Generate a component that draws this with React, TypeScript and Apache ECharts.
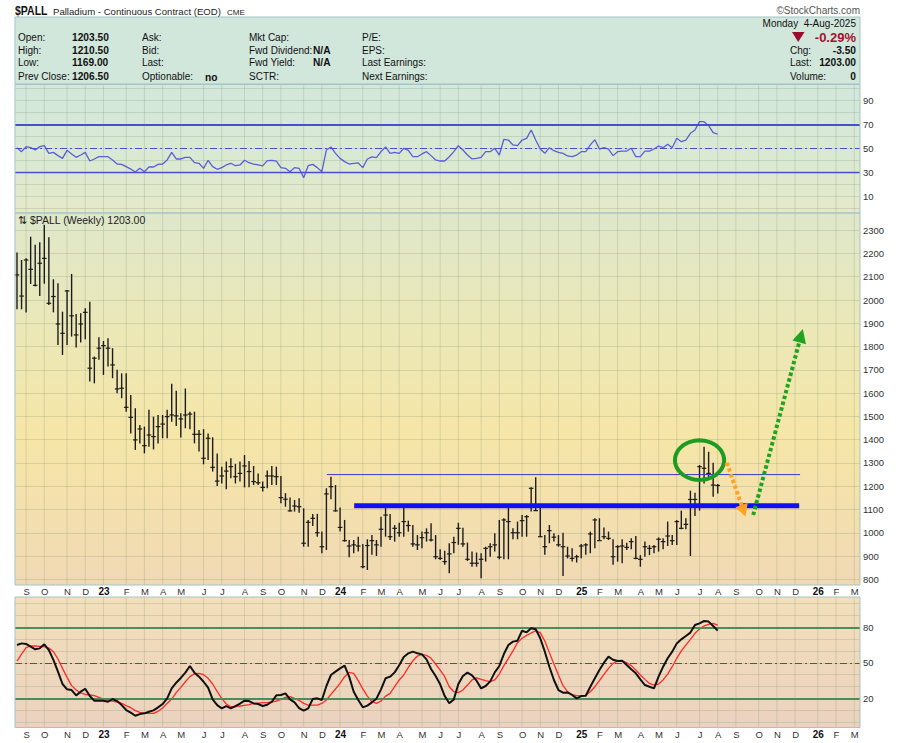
import React, { useEffect, useRef } from 'react';
import * as echarts from 'echarts';

const FONT = '"Liberation Sans", Arial, Helvetica, sans-serif';

// ---- weekly time base (bar index 0 = week of 22-Aug-2022) ----
const weekStartUTC = Date.UTC(2022, 7, 22);
const totalWeeks = 186;
const monthLabels = ['S','O','N','D','23','F','M','A','M','J','J','A','S','O','N','D','24','F','M','A','M','J','J','A','S','O','N','D','25','F','M','A','M','J','J','A','S','O','N','D','26','F','M'];

// ---- weekly bars ($PALL) ----
const highs = [2204,2172,2180,2272,2237,2248,2323,2270,2089,2072,1950,2043,2112,1940,1943,1965,1993,1757,1840,1824,1836,1793,1700,1685,1685,
1592,1535,1463,1456,1528,1499,1506,1506,1528,1640,1610,1513,1620,1520,1520,1442,1445,1427,1410,1341,1284,1306,1320,1296,1306,1334,1308,1287,1255,1220,1267,1287,1284,1244,1170,1151,1141,1148,1105,1055,1081,1081,1005,1191,1241,1205,1109,1055,
969,969,983,952,972,990,969,1069,1112,1081,1033,1043,1109,1052,1033,990,1005,1019,1041,990,929,923,955,983,1043,1022,958,919,915,912,940,955,998,1055,1062,1112,1019,1048,1076,1076,1195,1238,1112,990,1033,998,990,1000,940,933,905,952,955,1005,
1062,1062,1023,1005,972,947,972,957,976,986,904,962,947,947,980,976,1048,990,1055,1095,1062,1181,1172,1291,1370,1348,1301,1210];
const lows = [1960,1960,1946,2069,2058,2017,2070,1979,1947,1807,1764,1807,1843,1796,1818,1831,1650,1642,1743,1678,1714,1664,1599,1578,1520,
1427,1356,1384,1341,1370,1358,1384,1406,1406,1477,1459,1409,1449,1445,1384,1349,1294,1313,1263,1201,1212,1187,1234,1212,1220,1195,1195,1205,1205,1177,1191,1205,1205,1127,1112,1091,1091,1086,940,940,1029,983,912,926,1144,1091,1005,962,
895,912,919,847,840,905,900,940,983,969,962,983,983,1005,940,926,933,962,962,886,883,862,826,912,948,940,879,854,854,804,876,897,919,886,886,886,972,972,983,983,1091,1095,983,905,955,962,940,814,890,876,872,890,905,912,
933,968,972,969,862,876,869,926,929,886,854,897,904,912,919,929,943,947,947,1015,1015,900,1072,1095,1212,1234,1155,1169];
const closes = [2108,2017,2172,2132,2063,2158,2179,1986,2015,1897,1857,2039,1932,1850,1897,1947,1707,1750,1793,1804,1793,1721,1618,1621,1539,
1496,1399,1446,1374,1420,1413,1456,1467,1499,1506,1502,1489,1506,1510,1423,1423,1320,1406,1281,1222,1244,1265,1284,1241,1255,1287,1263,1220,1215,1195,1244,1244,1241,1151,1144,1094,1115,1112,955,1045,1062,1000,940,1167,1198,1094,1023,966,
943,948,943,854,945,966,948,1015,1076,983,1019,1000,1048,1031,952,948,979,1000,969,897,890,876,909,958,1019,952,886,869,869,886,933,940,948,895,1055,1048,1000,1000,1052,1069,1191,1095,983,940,1009,981,948,940,900,890,897,943,948,995,
1055,966,983,976,897,940,943,937,962,890,886,940,933,940,972,962,986,966,1048,1019,1036,1143,1143,1284,1277,1255,1205,1203];

// ---- RSI(14) ----
const rsi = [50.5,47.2,51.4,50.5,48.6,51.4,52.2,45.8,46.6,43.9,
41.6,48.3,45.3,42.5,44.4,46.6,39.4,41.1,43.0,43.0,
43.0,40.3,36.9,36.6,34.7,32.7,30.3,33.3,30.5,34.4,
34.4,36.6,36.9,40.3,46.6,41.1,41.1,42.5,42.5,38.0,
37.5,33.3,40.0,34.7,32.5,33.9,36.1,37.5,35.5,36.1,
40.0,38.0,36.9,36.1,35.3,39.7,40.0,39.4,33.9,33.3,
30.5,33.9,33.3,25.5,35.5,36.6,33.9,30.5,48.6,51.1,
45.8,41.6,38.9,36.9,37.5,37.8,33.9,41.1,42.8,42.2,
47.2,51.1,45.8,46.6,45.8,50.0,48.3,43.0,43.0,45.3,
47.2,43.9,40.3,39.4,39.4,43.0,
47.2,52.2,48.6,44.4,41.1,41.6,42.5,47.2,47.2,50.0,
44.4,57.5,56.9,52.8,52.2,56.9,58.3,65.2,56.9,49.4,
45.8,50.5,48.0,46.6,45.8,43.6,43.0,44.4,47.2,47.2,
52.8,57.2,49.4,50.5,49.4,43.9,47.2,47.7,47.7,50.0,
43.0,43.0,47.7,47.7,49.4,51.9,50.5,53.3,50.5,58.3,
55.5,56.9,62.5,65.2,72.2,72.2,68.9,63.0,61.9];
const rsiLabels = [10, 30, 50, 70, 90];

// ---- Slow stochastics ----
const stochK = [65.0,66.4,65.9,63.6,61.4,62.2,65.6,60.8,52.4,42.5,
32.1,27.6,27.0,22.5,25.6,28.1,21.9,18.0,18.0,18.0,
17.1,19.4,17.7,14.3,10.1,7.9,5.3,6.7,7.3,8.7,
9.8,12.4,15.2,20.0,28.4,33.2,37.2,41.7,47.3,41.7,
38.3,34.0,29.0,19.1,14.3,11.5,13.5,11.5,13.5,15.5,
18.0,17.7,15.7,15.2,13.5,14.6,17.1,22.5,22.8,24.2,
19.1,16.6,11.8,9.6,11.5,19.4,20.0,18.6,30.4,39.7,
42.5,45.3,47.6,38.3,25.6,18.6,12.4,13.8,16.6,19.7,
27.6,36.9,38.3,41.9,47.9,54.9,58.0,59.4,58.0,57.1,
52.9,44.8,38.8,31.8,21.9,15.8,
19.1,32.1,38.8,41.7,39.4,34.9,28.4,30.4,34.3,41.9,
47.3,57.4,65.0,67.9,68.7,77.1,75.7,79.1,78.3,70.7,
59.4,46.7,35.5,27.0,24.8,25.0,22.8,20.0,21.9,22.2,
29.8,36.9,43.9,50.1,55.2,52.6,51.5,51.8,48.1,44.5,
41.1,36.0,31.2,29.8,28.4,38.3,46.7,53.8,59.4,66.4,
69.8,72.6,75.5,81.9,83.3,85.3,84.8,81.1,77.2];
const stochD = [51.5,57.4,62.8,64.2,64.2,63.9,63.6,62.5,59.4,53.2,
45.3,37.7,30.7,27.0,24.5,23.3,22.8,22.2,20.8,19.4,
18.3,17.7,16.9,15.7,13.8,12.1,9.6,8.1,7.3,7.3,
7.3,9.0,11.8,15.7,19.4,24.8,29.3,34.0,38.3,40.8,
41.1,40.0,36.9,32.1,25.6,20.0,15.2,12.9,12.9,13.5,
14.1,14.6,15.7,16.0,16.3,16.3,16.9,17.7,19.1,20.8,
21.4,20.0,18.3,15.7,14.3,14.3,14.3,15.7,18.6,23.3,
27.9,32.6,38.3,41.9,41.1,34.9,27.9,21.9,17.1,15.7,
17.7,21.9,24.2,29.8,35.5,39.7,46.2,51.8,55.7,57.1,
56.3,53.8,49.0,43.9,38.3,29.8,
25.6,24.8,27.0,31.2,35.5,37.2,36.0,34.9,34.1,35.5,
40.5,47.6,53.8,60.0,67.0,70.7,73.2,75.2,76.9,75.5,
68.4,58.6,49.0,39.7,30.7,25.6,23.1,22.2,22.2,22.5,
25.6,29.8,34.9,40.2,45.3,49.5,51.5,51.5,50.1,47.6,
43.9,39.7,36.0,32.6,31.2,32.1,35.5,40.5,46.7,53.8,
60.0,65.0,69.8,74.9,78.5,81.1,82.5,83.3,81.9];
const stochLabels = [20, 50, 80];

// ---- annotations (data coords: [week index, price]) ----
const thinLine = [[68.1, 1250], [172.1, 1250]];
const thickLine = [[74.1, 1116], [171.9, 1116]];
const ellipseCenter = [150, 1312];
const ellipseRadius = [5.4, 85];
const orangeArrow = [[156.0, 1301], [160.1, 1070]];
const greenArrow = [[161.8, 1076], [172.7, 1876]];

// ---- header ----
const col1Labels = ['Open:', 'High:', 'Low:', 'Prev Close:'];
const col1Values = ['1203.50', '1210.50', '1169.00', '1206.50'];
const col2Labels = ['Ask:', 'Bid:', 'Last:', 'Optionable:'];
const col2Values = ['', '', '', 'no'];
const col3Labels = ['Mkt Cap:', 'Fwd Dividend:', 'Fwd Yield:', 'SCTR:'];
const col3Values = ['', 'N/A', 'N/A', ''];
const col4Labels = ['P/E:', 'EPS:', 'Last Earnings:', 'Next Earnings:'];
const rightLabels = ['Chg:', 'Last:', 'Volume:'];
const rightValues = ['-3.50', '1203.00', '0'];

function txt(x: number, y: number, text: string, font: string, fill = '#111', align = 'left', scaleX = 1) {
  return {
    type: 'text', x, y, z: 30, silent: true, scaleX,
    style: { text, font, fill, align, verticalAlign: 'middle', textAlign: align, textVerticalAlign: 'middle' },
  };
}

export default function App() {
  const ref = useRef<HTMLDivElement>(null);
  useEffect(() => {
    if (!ref.current) return;
    const chart = echarts.init(ref.current, undefined, { renderer: 'svg' });

    const monthIdx: number[] = [];
    for (let i = 1; i < totalWeeks; i++) {
      const d = new Date(weekStartUTC + i * 7 * 86400000);
      const p = new Date(weekStartUTC + (i - 1) * 7 * 86400000);
      if (d.getUTCMonth() !== p.getUTCMonth()) monthIdx.push(i);
    }

    const xMin = -0.44, xMax = 185.27;
    const gridColor = 'rgba(110,135,110,0.22)';
    const rowY = [37.3, 50, 62.7, 76];
    const hf = `10px ${FONT}`;
    const hb = `bold 10.2px ${FONT}`;

    const vGrid = (axis: number, top: number, bot: number) => ({
      type: 'custom', xAxisIndex: axis, yAxisIndex: axis, silent: true, z: 1,
      data: monthIdx.map((i) => [i, top]),
      encode: { x: 0, y: 1 },
      renderItem: (params: any, api: any) => {
        const a = api.coord([api.value(0), top]);
        const b = api.coord([api.value(0), bot]);
        return { type: 'line', shape: { x1: a[0], y1: a[1], x2: b[0], y2: b[1] }, style: { stroke: gridColor, lineWidth: 1 } };
      },
    });
    const monthText = (axis: number, base: number, off: number) => ({
      type: 'custom', xAxisIndex: axis, yAxisIndex: axis, silent: true, z: 6,
      data: monthIdx.map((i) => [i, base]),
      encode: { x: 0, y: 1 },
      renderItem: (params: any, api: any) => {
        const p = api.coord([api.value(0), base]);
        const t = monthLabels[params.dataIndex] || '';
        const isYear = /\d/.test(t);
        return {
          type: 'text', x: p[0] + 0.5, y: p[1] + off,
          style: {
            text: t, fill: isYear ? '#111' : '#333',
            font: isYear ? `bold 10px ${FONT}` : `9.5px ${FONT}`,
            align: 'center', verticalAlign: 'middle', textAlign: 'center', textVerticalAlign: 'middle',
          },
        };
      },
    });

    const barData = highs.map((h, i) => [i, h, lows[i], closes[i]]);

    const graphics: any[] = [
      // backgrounds
      { type: 'rect', z: -10, silent: true, shape: { x: 15, y: 17, width: 845, height: 67 }, style: { fill: '#d1e7dc', stroke: '#a6c3c5', lineWidth: 1 } },
      { type: 'rect', z: -10, silent: true, shape: { x: 15, y: 84.5, width: 845, height: 128.5 },
        style: { fill: new echarts.graphic.LinearGradient(0, 0, 0, 1, [{ offset: 0, color: '#d2e8dc' }, { offset: 0.5, color: '#d9e9d4' }, { offset: 1, color: '#e6e9c9' }]) } },
      { type: 'rect', z: -10, silent: true, shape: { x: 15, y: 213, width: 845, height: 372 },
        style: { fill: new echarts.graphic.LinearGradient(0, 0, 0, 1, [{ offset: 0, color: '#dfe7ca' }, { offset: 0.3, color: '#ebe8b8' }, { offset: 0.6, color: '#f6e6a7' }, { offset: 1, color: '#f1d9b4' }]) } },
      { type: 'rect', z: -10, silent: true, shape: { x: 15, y: 597, width: 845, height: 130.5 },
        style: { fill: new echarts.graphic.LinearGradient(0, 0, 0, 1, [{ offset: 0, color: '#f3dfba' }, { offset: 1, color: '#ebd2bf' }]) } },
      // borders
      { type: 'rect', z: 25, silent: true, shape: { x: 15, y: 84.5, width: 845, height: 128.5 }, style: { fill: 'none', stroke: '#a6c3c5', lineWidth: 1 } },
      { type: 'rect', z: 25, silent: true, shape: { x: 15, y: 213, width: 845, height: 372 }, style: { fill: 'none', stroke: '#a6c3c5', lineWidth: 1 } },
      { type: 'rect', z: 25, silent: true, shape: { x: 15, y: 597, width: 845, height: 130.5 }, style: { fill: 'none', stroke: '#a6c3c5', lineWidth: 1 } },
      // title
      txt(15, 11, '$PALL', `bold 12.5px ${FONT}`, '#111', 'left', 0.84),
      txt(53, 11.5, 'Palladium - Continuous Contract (EOD)', `9.6px ${FONT}`, '#222'),
      txt(227, 12, 'CME', `8px ${FONT}`, '#222'),
      txt(860, 10, '\u00A9StockCharts.com', `10px ${FONT}`, '#555', 'right'),
      // right block
      txt(856, 23.5, 'Monday  4-Aug-2025', hf, '#111', 'right'),
      { type: 'polygon', z: 30, silent: true, shape: { points: [[792, 32], [804.5, 32], [798.2, 42]] }, style: { fill: '#9b0c2c' } },
      txt(856, 37, '-0.29%', `bold 13px ${FONT}`, '#a5102e', 'right'),
      txt(18, 219.5, '\u21C5 $PALL (Weekly) 1203.00', `10.5px ${FONT}`, '#222'),
    ];
    rowY.forEach((y, r) => {
      graphics.push(txt(18, y, col1Labels[r], hf));
      graphics.push(txt(72, y, col1Values[r], hb));
      graphics.push(txt(142, y, col2Labels[r], hf));
      if (col2Values[r]) graphics.push(txt(205, y + 1, col2Values[r], hb));
      graphics.push(txt(249, y, col3Labels[r], hf));
      if (col3Values[r]) graphics.push(txt(313, y, col3Values[r], hb));
      graphics.push(txt(362, y, col4Labels[r], hf));
      if (r > 0) {
        graphics.push(txt(790, y, rightLabels[r - 1], hf));
        graphics.push(txt(856, y, rightValues[r - 1], hb, '#111', 'right'));
      }
    });

    const yAxisCommon = {
      type: 'value', position: 'right',
      axisLine: { show: false }, axisTick: { show: false },
      splitLine: { show: true, lineStyle: { color: gridColor, width: 1 } },
    };

    const option: any = {
      animation: false,
      backgroundColor: '#ffffff',
      graphic: { elements: graphics },
      grid: [
        { left: 15, right: 40, top: 88.3, height: 120 },
        { left: 15, right: 40, top: 230.2, height: 349.1 },
        { left: 15, right: 40, top: 603.6, height: 118.4 },
      ],
      xAxis: [0, 1, 2].map((g) => ({ type: 'value', gridIndex: g, min: xMin, max: xMax, show: false })),
      yAxis: [
        { ...yAxisCommon, gridIndex: 0, min: 0, max: 100, interval: 10,
          axisLabel: { margin: 3, color: '#333', fontSize: 9.5, fontFamily: FONT, formatter: (v: number) => (rsiLabels.includes(v) ? String(v) : '') } },
        { ...yAxisCommon, gridIndex: 1, min: 800, max: 2300, interval: 100,
          axisLabel: { margin: 3, color: '#333', fontSize: 9.5, fontFamily: FONT, formatter: (v: number) => String(v) } },
        { ...yAxisCommon, gridIndex: 2, min: 0, max: 100, interval: 10,
          axisLabel: { margin: 3, color: '#333', fontSize: 9.5, fontFamily: FONT, formatter: (v: number) => (stochLabels.includes(v) ? String(v) : '') } },
      ],
      series: [
        vGrid(0, 102.7, -4.3),
        vGrid(1, 2374, 775.5),
        vGrid(2, 105.3, -4.5),
        monthText(1, 800, 12),
        monthText(2, 0, 12.3),
        {
          type: 'line', xAxisIndex: 0, yAxisIndex: 0, z: 4, silent: true,
          data: rsi.map((v, i) => [i, v]), symbol: 'none',
          lineStyle: { color: '#5a5fd6', width: 1.3 },
          markLine: {
            silent: true, symbol: 'none', label: { show: false }, animation: false,
            data: [
              { yAxis: 70, lineStyle: { color: '#4a4fd0', width: 1.8, type: 'solid' } },
              { yAxis: 30, lineStyle: { color: '#4a4fd0', width: 1.3, type: 'solid' } },
              { yAxis: 50, lineStyle: { color: '#4a4fd0', width: 1, type: [7, 3, 2, 3] } },
            ],
          },
        },
        {
          type: 'custom', xAxisIndex: 1, yAxisIndex: 1, z: 4, silent: true,
          data: barData, encode: { x: 0, y: [1, 2, 3] },
          renderItem: (params: any, api: any) => {
            const x = api.value(0);
            const ph = api.coord([x, api.value(1)]);
            const pl = api.coord([x, api.value(2)]);
            const pc = api.coord([x, api.value(3)]);
            return {
              type: 'group',
              children: [
                { type: 'line', shape: { x1: ph[0], y1: ph[1], x2: pl[0], y2: pl[1] }, style: { stroke: '#1c1c1c', lineWidth: 1.4 } },
                { type: 'line', shape: { x1: pc[0] - 2.3, y1: pc[1], x2: pc[0] + 2.3, y2: pc[1] }, style: { stroke: '#1c1c1c', lineWidth: 1.2 } },
              ],
            };
          },
        },
        {
          type: 'line', xAxisIndex: 1, yAxisIndex: 1, z: 5, silent: true, symbol: 'none',
          data: thinLine, lineStyle: { color: '#3b3bd2', width: 1 },
        },
        {
          type: 'line', xAxisIndex: 1, yAxisIndex: 1, z: 5, silent: true, symbol: 'none',
          data: thickLine, lineStyle: { color: '#1010f5', width: 5 },
        },
        {
          type: 'custom', xAxisIndex: 1, yAxisIndex: 1, z: 6, silent: true,
          data: [ellipseCenter], encode: { x: 0, y: 1 },
          renderItem: (params: any, api: any) => {
            const c = api.coord(ellipseCenter);
            const ex = api.coord([ellipseCenter[0] + ellipseRadius[0], ellipseCenter[1]]);
            const ey = api.coord([ellipseCenter[0], ellipseCenter[1] + ellipseRadius[1]]);
            const rx = Math.abs(ex[0] - c[0]);
            const ry = Math.abs(c[1] - ey[1]);
            const pts: number[][] = [];
            for (let k = 0; k < 60; k++) {
              const a = (k / 60) * Math.PI * 2;
              pts.push([c[0] + rx * Math.cos(a), c[1] + ry * Math.sin(a)]);
            }
            const arrow = (seg: number[][], color: string, hl: number, hw: number) => {
              const s = api.coord(seg[0]);
              const t = api.coord(seg[1]);
              const dx = t[0] - s[0], dy = t[1] - s[1];
              const len = Math.sqrt(dx * dx + dy * dy);
              const ux = dx / len, uy = dy / len;
              const bx = t[0] - ux * hl, by = t[1] - uy * hl;
              const px = -uy, py = ux;
              return [
                { type: 'line', shape: { x1: s[0], y1: s[1], x2: bx + ux * 2, y2: by + uy * 2 }, style: { stroke: color, lineWidth: 4, lineDash: [3.5, 2.5] } },
                { type: 'polygon', shape: { points: [[t[0], t[1]], [bx + px * hw, by + py * hw], [bx - px * hw, by - py * hw]] }, style: { fill: color } },
              ];
            };
            return {
              type: 'group',
              children: [
                { type: 'polygon', shape: { points: pts }, style: { fill: 'none', stroke: '#1e9b22', lineWidth: 4 } },
                ...arrow(orangeArrow, '#ffa31f', 12, 6.5),
                ...arrow(greenArrow, '#1ea41e', 14, 7),
              ],
            };
          },
        },
        {
          type: 'line', xAxisIndex: 2, yAxisIndex: 2, z: 4, silent: true, symbol: 'none',
          data: stochD.map((v, i) => [i, v]), lineStyle: { color: '#ff2a2a', width: 1.3 },
          markLine: {
            silent: true, symbol: 'none', label: { show: false }, animation: false,
            data: [
              { yAxis: 80, lineStyle: { color: '#4c8b5a', width: 2.2, type: 'solid' } },
              { yAxis: 20, lineStyle: { color: '#4c8b5a', width: 2.2, type: 'solid' } },
              { yAxis: 50, lineStyle: { color: '#2e6e3c', width: 1, type: [7, 3, 2, 3] } },
            ],
          },
        },
        {
          type: 'line', xAxisIndex: 2, yAxisIndex: 2, z: 5, silent: true, symbol: 'none',
          data: stochK.map((v, i) => [i, v]), lineStyle: { color: '#111111', width: 2 },
        },
      ],
    };
    chart.setOption(option);
    return () => chart.dispose();
  }, []);
  return <div ref={ref} style={{ position: 'absolute', left: 0, top: 0, width: 900, height: 743 }} />;
}
